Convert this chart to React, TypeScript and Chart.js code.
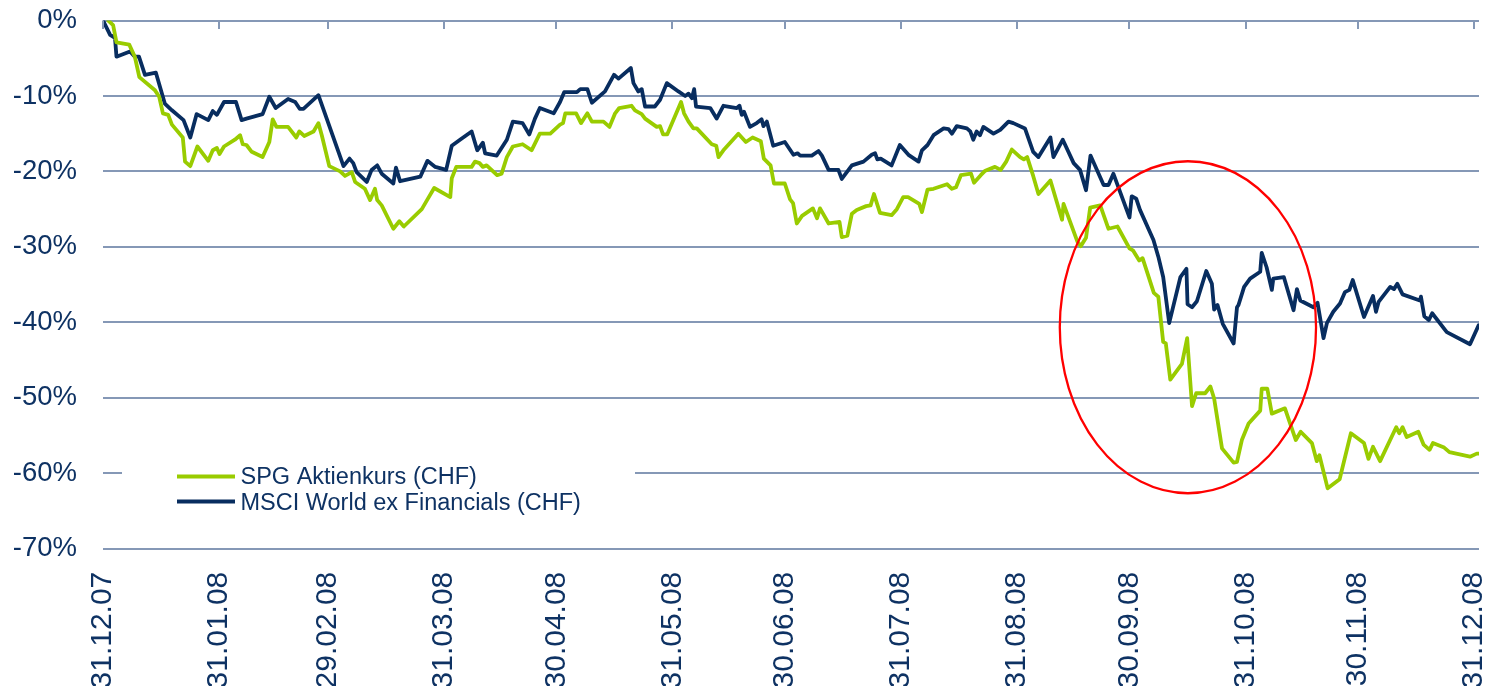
import React, { useEffect, useRef } from "react";
import { Chart, registerables } from "chart.js";

Chart.register(...registerables);

// ---- Axis definitions ----
const monthEndDays = [0, 31, 60, 91, 121, 152, 182, 213, 244, 274, 305, 335, 366];
const monthLabels = [
  "31.12.07", "31.01.08", "29.02.08", "31.03.08", "30.04.08", "31.05.08", "30.06.08",
  "31.07.08", "31.08.08", "30.09.08", "31.10.08", "30.11.08", "31.12.08",
];
const yMin = -70;
const yMax = 0;
const yStep = 10;
const xMax = 367.3;

// ---- Series (x = days since 31.12.07, y = performance in %) ----
const seriesNames = ["SPG Aktienkurs (CHF)", "MSCI World ex Financials (CHF)"];

const spgDays = [
  1.4, 2.7, 3.6, 7.0, 8.5, 9.7, 13.8, 15.0, 16.0, 17.4,
  18.4, 21.3, 21.9, 23.3, 25.2, 28.1, 29.3, 30.4, 31.1, 32.3,
  35.2, 36.6, 37.3, 38.3, 39.7, 42.6, 44.4, 45.3, 46.3, 49.4,
  51.6, 52.4, 53.7, 56.2, 57.5, 58.4, 60.4, 63.3, 64.6, 66.4,
  67.3, 69.9, 71.3, 72.6, 73.2, 74.4, 77.5, 79.1, 80.3, 85.1,
  86.5, 88.4, 92.7, 93.1, 94.3, 98.4, 99.3, 100.5, 101.4, 102.4,
  105.2, 106.4, 107.8, 109.4, 112.0, 114.4, 116.6, 119.4, 122.0, 122.8,
  123.4, 126.3, 127.6, 129.3, 130.5, 133.6, 135.2, 136.7, 137.8, 141.1,
  142.0, 143.8, 144.7, 147.8, 148.7, 149.5, 150.6, 154.3, 155.1, 156.3,
  157.6, 158.5, 162.5, 163.7, 164.3, 165.6, 169.6, 171.6, 173.4, 175.6,
  176.4, 178.2, 179.1, 182.0, 183.4, 184.2, 185.2, 186.6, 189.5, 190.6,
  191.4, 193.7, 196.6, 197.2, 198.7, 199.9, 201.2, 203.7, 204.9, 205.8,
  207.4, 210.5, 211.9, 213.6, 214.9, 217.9, 218.6, 220.1, 221.7, 225.3,
  226.6, 227.7, 229.0, 231.7, 232.5, 234.3, 235.5, 238.1, 239.6, 241.1,
  242.6, 244.8, 245.8, 246.7, 248.3, 249.7, 252.9, 256.0, 256.4, 260.1,
  261.0, 262.4, 263.5, 266.2, 268.4, 270.8, 274.0, 275.0, 276.6, 277.5,
  280.5, 281.7, 283.0, 283.7, 284.9, 288.0, 289.4, 290.7, 291.8, 294.2,
  295.6, 296.6, 298.7, 301.8, 302.7, 304.0, 305.8, 308.9, 309.3, 310.8,
  312.0, 315.5, 318.4, 319.7, 322.7, 324.0, 324.7, 326.9, 330.1, 333.1,
  336.6, 337.8, 339.0, 340.9, 345.2, 346.0, 346.9, 348.0, 351.1, 352.5,
  354.1, 355.0, 358.0, 359.4, 364.9, 366.7, 367.1,
];
const spgValues = [
  0, -0.6, -2.9, -3.2, -4.8, -7.5, -9.2, -10.1, -12.3, -12.5,
  -13.8, -15.5, -18.7, -19.3, -16.7, -18.6, -17.2, -16.9, -17.7, -16.7,
  -15.8, -15.2, -16.4, -16.5, -17.4, -18.1, -16.1, -13.1, -14.1, -14.1,
  -15.5, -14.7, -15.3, -14.7, -13.6, -15.2, -19.3, -20.0, -20.6, -20.1,
  -21.4, -22.3, -23.8, -22.3, -23.8, -24.5, -27.6, -26.6, -27.3, -25.0,
  -23.8, -22.2, -23.4, -20.9, -19.4, -19.4, -18.7, -18.9, -19.4, -19.2,
  -20.5, -20.3, -18.1, -16.7, -16.4, -17.2, -15.0, -15.0, -13.8, -13.6,
  -12.3, -12.3, -13.6, -12.3, -13.4, -13.4, -14.1, -12.3, -11.6, -11.3,
  -11.9, -12.4, -13.0, -14.1, -14.0, -15.1, -15.1, -10.8, -12.3, -13.4,
  -14.3, -14.3, -16.4, -16.6, -18.1, -17.2, -15.0, -16.1, -15.5, -16.0,
  -18.3, -19.2, -21.6, -21.6, -23.7, -24.2, -26.9, -25.9, -24.9, -26.2,
  -24.9, -26.9, -26.7, -28.7, -28.5, -25.6, -25.1, -24.6, -24.5, -23.0,
  -25.5, -25.8, -25.0, -23.4, -23.4, -24.3, -25.4, -22.4, -22.3, -21.7,
  -22.3, -22.1, -20.5, -20.3, -21.5, -20.5, -19.9, -19.4, -19.8, -18.7,
  -17.1, -18.1, -18.4, -18.1, -20.6, -23.0, -21.2, -26.4, -24.3, -29.3,
  -29.9, -28.8, -24.8, -24.5, -27.6, -27.3, -30.2, -30.5, -31.8, -31.5,
  -36.1, -36.6, -42.6, -42.8, -47.6, -45.5, -42.1, -51.1, -49.4, -49.4,
  -48.5, -50.1, -56.7, -58.6, -58.5, -55.6, -53.4, -51.7, -48.8, -48.8,
  -52.1, -51.4, -55.6, -54.5, -56.0, -58.4, -57.6, -62.0, -60.8, -54.7,
  -56.0, -58.1, -56.5, -58.4, -53.9, -54.7, -53.9, -55.2, -54.5, -56.2,
  -56.9, -56.0, -56.6, -57.2, -57.8, -57.4, -57.4,
];

const msciDays = [
  0, 1.9, 3.2, 3.6, 7.2, 8.5, 9.6, 11.2, 14.1, 16.5,
  18.4, 21.5, 23.3, 25.0, 28.1, 29.3, 30.4, 32.3, 35.5, 37.0,
  38.3, 42.6, 44.4, 46.1, 49.4, 51.3, 52.5, 53.5, 57.5, 64.2,
  65.8, 66.8, 67.7, 70.4, 71.7, 73.2, 74.4, 77.5, 78.2, 79.3,
  84.7, 86.6, 88.7, 91.6, 93.1, 95.3, 98.4, 99.9, 101.4, 102.0,
  105.1, 107.8, 109.4, 112.0, 113.8, 115.3, 116.6, 120.3, 122.0, 123.1,
  126.5, 127.4, 129.3, 130.5, 134.0, 136.4, 137.6, 140.9, 141.6, 142.9,
  143.8, 144.7, 147.3, 148.7, 150.5, 153.6, 155.4, 156.3, 157.2, 157.8,
  158.3, 162.1, 163.8, 165.6, 169.2, 169.9, 170.5, 171.1, 172.7, 174.5,
  175.8, 176.3, 177.2, 178.9, 182.0, 184.3, 185.4, 186.1, 189.2, 191.0,
  191.9, 193.7, 196.3, 197.2, 199.9, 203.0, 205.2, 206.1, 206.7, 207.6,
  210.5, 212.7, 215.0, 217.7, 218.6, 220.1, 221.7, 224.4, 225.7, 226.6,
  227.9, 230.6, 231.5, 232.3, 233.2, 234.1, 235.0, 237.7, 239.5, 241.7,
  243.0, 246.1, 248.3, 249.7, 252.9, 253.7, 256.2, 259.1, 260.8, 262.4,
  263.6, 267.1, 268.4, 269.7, 274.0, 274.6, 275.8, 276.8, 280.4, 281.7,
  283.0, 284.6, 287.6, 289.2, 289.5, 290.7, 292.0, 294.5, 296.0, 296.6,
  297.5, 298.9, 301.8, 302.7, 303.1, 304.6, 306.2, 308.9, 309.3, 310.6,
  312.0, 312.4, 315.2, 317.8, 318.7, 319.6, 323.1, 324.2, 325.8, 326.7,
  328.4, 330.2, 331.5, 332.7, 333.6, 336.6, 339.0, 339.8, 340.5, 343.6,
  344.6, 345.5, 346.9, 351.5, 351.8, 352.7, 353.9, 354.8, 358.7, 364.9,
  367.2,
];
const msciValues = [
  0, -1.9, -2.3, -4.8, -4.1, -4.8, -4.8, -7.2, -6.9, -11.0,
  -11.9, -13.2, -15.5, -12.4, -13.2, -12.0, -12.5, -10.8, -10.8, -13.2,
  -13.0, -12.4, -10.1, -11.6, -10.4, -10.8, -11.7, -11.7, -9.9, -19.3,
  -18.3, -18.9, -20.1, -21.4, -19.8, -19.2, -20.3, -21.6, -19.5, -21.3,
  -20.7, -18.6, -19.4, -19.8, -16.6, -15.8, -14.7, -17.2, -16.2, -17.6,
  -17.9, -15.8, -13.4, -13.6, -15.1, -13.0, -11.6, -12.3, -10.8, -9.5,
  -9.5, -9.1, -9.1, -10.9, -9.4, -7.2, -7.7, -6.3, -8.3, -9.4,
  -9.1, -11.4, -11.4, -10.5, -8.3, -9.4, -10.0, -9.7, -10.3, -9.1,
  -11.4, -11.6, -13.0, -11.3, -11.6, -11.3, -12.5, -12.1, -14.1, -13.6,
  -13.1, -14.0, -13.4, -16.6, -16.1, -17.8, -17.6, -17.9, -17.9, -17.3,
  -17.9, -19.8, -19.8, -21.0, -19.2, -18.7, -17.8, -17.6, -18.4, -18.3,
  -19.2, -16.5, -17.8, -18.7, -17.2, -16.5, -15.2, -14.3, -14.4, -15.0,
  -14.0, -14.3, -14.7, -15.8, -14.7, -15.2, -14.1, -15.0, -14.5, -13.4,
  -13.6, -14.3, -17.4, -18.1, -15.5, -18.1, -15.8, -18.9, -19.8, -22.5,
  -17.9, -21.8, -21.8, -20.3, -26.1, -23.3, -23.6, -25.1, -29.1, -31.3,
  -34.0, -40.1, -34.0, -32.9, -37.6, -38.0, -37.2, -33.2, -34.9, -38.3,
  -37.7, -40.2, -42.8, -38.0, -37.7, -35.3, -34.2, -33.3, -30.8, -32.7,
  -35.7, -34.2, -34.0, -38.4, -35.6, -37.1, -38.0, -37.4, -42.1, -40.1,
  -38.6, -37.5, -36.0, -35.7, -34.4, -39.3, -36.5, -38.6, -37.3, -35.3,
  -35.6, -34.9, -36.3, -37.1, -36.6, -39.2, -39.7, -38.8, -41.3, -42.9,
  -40.4,
];

// ---- Highlight ellipse (data coordinates) ----
const ellipseCenterDay = 289.6;
const ellipseCenterValue = -40.65;
const ellipseHalfWidthDays = 34.2;
const ellipseHalfHeightPct = 22.0;

// ---- Styles ----
const GREEN = "#99CC00";
const NAVY = "#082D5F";
const TEXT = "#0E3263";
const GRID = "#8598B6";
const FONT = "'Liberation Sans', Arial, Helvetica, sans-serif";

const decorPlugin = {
  id: "decor",
  afterDatasetsDraw(chart: any) {
    const { ctx, chartArea: ca, scales } = chart;
    const x = scales.x;
    const y = scales.y;
    ctx.save();

    // tick marks hanging from the 0% line
    ctx.strokeStyle = GRID;
    ctx.lineWidth = 2;
    monthEndDays.forEach((d) => {
      const px = Math.round(x.getPixelForValue(d));
      ctx.beginPath();
      ctx.moveTo(px, ca.top);
      ctx.lineTo(px, ca.top + 8.5);
      ctx.stroke();
    });

    // legend inside the plot
    const lx = ca.left;
    const ly = ca.top;
    ctx.fillStyle = "#ffffff";
    ctx.fillRect(lx + 19, ly + 434, 513, 62);
    const items = [
      { color: GREEN, label: seriesNames[0], lineY: 456, baseY: 463.5 },
      { color: NAVY, label: seriesNames[1], lineY: 481, baseY: 489 },
    ];
    items.forEach((it) => {
      ctx.strokeStyle = it.color;
      ctx.lineWidth = 4;
      ctx.beginPath();
      ctx.moveTo(lx + 74, ly + it.lineY);
      ctx.lineTo(lx + 132, ly + it.lineY);
      ctx.stroke();
      ctx.fillStyle = TEXT;
      ctx.font = `23.5px ${FONT}`;
      ctx.textAlign = "left";
      ctx.textBaseline = "alphabetic";
      ctx.fillText(it.label, lx + 137.5, ly + it.baseY);
    });

    // red highlight ellipse
    const cx = x.getPixelForValue(ellipseCenterDay);
    const cy = y.getPixelForValue(ellipseCenterValue);
    const rx = Math.abs(x.getPixelForValue(ellipseCenterDay + ellipseHalfWidthDays) - cx);
    const ry = Math.abs(y.getPixelForValue(ellipseCenterValue + ellipseHalfHeightPct) - cy);
    ctx.strokeStyle = "#FF0000";
    ctx.lineWidth = 2.3;
    ctx.beginPath();
    ctx.ellipse(cx, cy, rx, ry, 0, 0, Math.PI * 2);
    ctx.stroke();

    ctx.restore();
  },
};

export default function App() {
  const canvasRef = useRef<HTMLCanvasElement | null>(null);

  useEffect(() => {
    const canvas = canvasRef.current;
    if (!canvas) return;
    const chart = new Chart(canvas, {
      type: "line",
      data: {
        datasets: [
          {
            label: seriesNames[0],
            data: spgDays.map((d, i) => ({ x: d, y: spgValues[i] })),
            borderColor: GREEN,
            backgroundColor: GREEN,
            borderWidth: 3.8,
            pointRadius: 0,
            tension: 0,
            borderJoinStyle: "round",
            borderCapStyle: "round",
          },
          {
            label: seriesNames[1],
            data: msciDays.map((d, i) => ({ x: d, y: msciValues[i] })),
            borderColor: NAVY,
            backgroundColor: NAVY,
            borderWidth: 3.8,
            pointRadius: 0,
            tension: 0,
            borderJoinStyle: "round",
            borderCapStyle: "round",
          },
        ],
      },
      options: {
        animation: false,
        responsive: false,
        events: [],
        layout: { padding: { top: 20.5, left: 0, right: 12, bottom: 0 } },
        plugins: {
          legend: { display: false },
          tooltip: { enabled: false },
          title: { display: false },
        },
        scales: {
          x: {
            type: "linear",
            min: 0,
            max: xMax,
            border: { display: false },
            grid: { display: false, drawTicks: false },
            afterBuildTicks: (scale: any) => {
              scale.ticks = monthEndDays.map((v) => ({ value: v }));
            },
            afterFit: (scale: any) => {
              scale.height = 710 - 548.7;
              scale.paddingLeft = 0;
              scale.paddingRight = 0;
            },
            ticks: {
              autoSkip: false,
              minRotation: 90,
              maxRotation: 90,
              padding: 23,
              color: TEXT,
              font: { family: FONT, size: 30 },
              callback: (value: any) => {
                const i = monthEndDays.indexOf(Number(value));
                return i >= 0 ? monthLabels[i] : "";
              },
            },
          },
          y: {
            type: "linear",
            min: yMin,
            max: yMax,
            border: { display: false },
            grid: { color: GRID, lineWidth: 2, drawTicks: false },
            afterFit: (scale: any) => {
              scale.width = 103;
              scale.paddingTop = 0;
              scale.paddingBottom = 0;
            },
            ticks: {
              stepSize: yStep,
              padding: 26,
              color: TEXT,
              font: { family: FONT, size: 27.5 },
              callback: (value: any) => `${value}%`,
            },
          },
        },
      },
      plugins: [decorPlugin],
    });
    return () => chart.destroy();
  }, []);

  return (
    <div
      style={{
        position: "fixed",
        left: 0,
        top: 0,
        width: 1491,
        height: 686,
        overflow: "hidden",
        background: "#ffffff",
      }}
    >
      <canvas
        ref={canvasRef}
        width={1491}
        height={710}
        style={{ display: "block", width: 1491, height: 710 }}
      />
    </div>
  );
}
